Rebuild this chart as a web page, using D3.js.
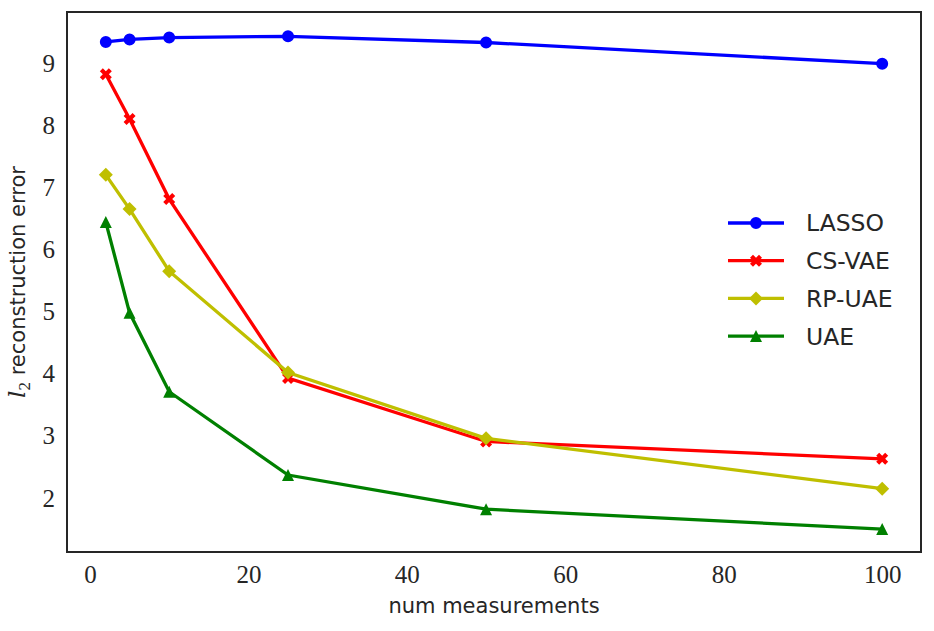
<!DOCTYPE html>
<html>
<head>
<meta charset="utf-8">
<script src="https://cdn.jsdelivr.net/npm/d3@7"></script>
<style>
  body { margin: 0; background: #fff; }
</style>
</head>
<body>
<svg id="chart" width="934" height="631"></svg>
<script>
// measurements on the x axis
var measurements = [2, 5, 10, 25, 50, 100];

var lasso  = [9.34, 9.38, 9.41, 9.43, 9.33, 8.99];
var csvae  = [8.82, 8.10, 6.81, 3.93, 2.91, 2.63];
var rpuae  = [7.20, 6.65, 5.65, 4.02, 2.96, 2.15];
var uae    = [6.44, 4.98, 3.71, 2.37, 1.82, 1.50];

var seriesNames = ["LASSO", "CS-VAE", "RP-UAE", "UAE"];
var xTicks = [0, 20, 40, 60, 80, 100];
var yTicks = [2, 3, 4, 5, 6, 7, 8, 9];

var plotLeft = 67, plotRight = 921, plotTop = 12, plotBottom = 552;

var svg = d3.select("#chart");

var x = d3.scaleLinear().domain([-2.9, 104.9]).range([plotLeft, plotRight]);
var y = d3.scaleLinear().domain([1.131, 9.821]).range([plotBottom, plotTop]);

var series = [
  { name: seriesNames[0], values: lasso, color: "#0000ff", marker: "circle" },
  { name: seriesNames[1], values: csvae, color: "#ff0000", marker: "x" },
  { name: seriesNames[2], values: rpuae, color: "#bfbf00", marker: "diamond" },
  { name: seriesNames[3], values: uae,   color: "#008000", marker: "triangle" }
];

function markerPath(type) {
  if (type == "circle") return d3.symbol(d3.symbolCircle, 113)();
  if (type == "x") return d3.symbol(d3.symbolCross, 90)();
  if (type == "diamond") return d3.symbol(d3.symbolSquare, 98)();
  return "M0,-6L6,6L-6,6Z";
}
function markerRotate(type) {
  return (type == "x" || type == "diamond") ? " rotate(45)" : "";
}

// axes (ticks only as labels, seaborn white style)
var xAxis = d3.axisBottom(x).tickValues(xTicks).tickSize(0).tickPadding(12);
var yAxis = d3.axisLeft(y).tickValues(yTicks).tickSize(0).tickPadding(12);

var gx = svg.append("g").attr("transform", "translate(0," + plotBottom + ")").call(xAxis);
var gy = svg.append("g").attr("transform", "translate(" + plotLeft + ",0)").call(yAxis);
[gx, gy].forEach(function (g) {
  g.select(".domain").remove();
  g.selectAll("text")
    .style("font-family", "'Liberation Serif', 'DejaVu Serif', serif")
    .style("font-size", "25px")
    .attr("fill", "#262626");
});
gx.selectAll("text").attr("dy", "0.75em");

// lines and markers
var line = d3.line()
  .x(function (d, i) { return x(measurements[i]); })
  .y(function (d) { return y(d); });

var groups = svg.selectAll("g.series").data(series).enter().append("g").attr("class", "series");

groups.append("path")
  .attr("d", function (d) { return line(d.values); })
  .attr("fill", "none")
  .attr("stroke", function (d) { return d.color; })
  .attr("stroke-width", 3.3);

groups.each(function (s) {
  d3.select(this).selectAll("path.mk").data(s.values).enter().append("path")
    .attr("class", "mk")
    .attr("d", markerPath(s.marker))
    .attr("transform", function (d, i) {
      return "translate(" + x(measurements[i]) + "," + y(d) + ")" + markerRotate(s.marker);
    })
    .attr("fill", s.color);
});

// frame
svg.append("rect")
  .attr("x", plotLeft).attr("y", plotTop)
  .attr("width", plotRight - plotLeft).attr("height", plotBottom - plotTop)
  .attr("fill", "none")
  .attr("stroke", "#262626")
  .attr("stroke-width", 2);

// legend
var legend = svg.append("g");
series.forEach(function (s, i) {
  var ly = 223 + i * 37.7;
  legend.append("line")
    .attr("x1", 728).attr("x2", 784).attr("y1", ly).attr("y2", ly)
    .attr("stroke", s.color).attr("stroke-width", 3.3);
  legend.append("path")
    .attr("d", markerPath(s.marker))
    .attr("transform", "translate(756," + ly + ")" + markerRotate(s.marker))
    .attr("fill", s.color);
  legend.append("text")
    .attr("x", 806).attr("y", ly).attr("dy", "0.36em")
    .text(s.name)
    .style("font-family", "'DejaVu Sans', sans-serif")
    .style("font-size", "23.5px")
    .attr("fill", "#262626");
});

// axis labels
svg.append("text")
  .attr("x", (plotLeft + plotRight) / 2).attr("y", 613)
  .attr("text-anchor", "middle")
  .text("num measurements")
  .style("font-family", "'DejaVu Sans', sans-serif")
  .style("font-size", "21px")
  .attr("fill", "#262626");

var yl = svg.append("text")
  .attr("transform", "translate(25," + (plotTop + plotBottom) / 2 + ") rotate(-90)")
  .attr("text-anchor", "middle")
  .style("font-family", "'DejaVu Sans', sans-serif")
  .style("font-size", "21px")
  .attr("fill", "#262626");
yl.append("tspan")
  .text("l")
  .style("font-family", "'DejaVu Serif', serif")
  .style("font-style", "italic")
  .style("font-size", "23px");
yl.append("tspan")
  .text("2")
  .attr("dy", 5)
  .style("font-family", "'Liberation Serif', 'DejaVu Serif', serif")
  .style("font-size", "17px");
yl.append("tspan")
  .text(" reconstruction error")
  .attr("dy", -5);
</script>
</body>
</html>
